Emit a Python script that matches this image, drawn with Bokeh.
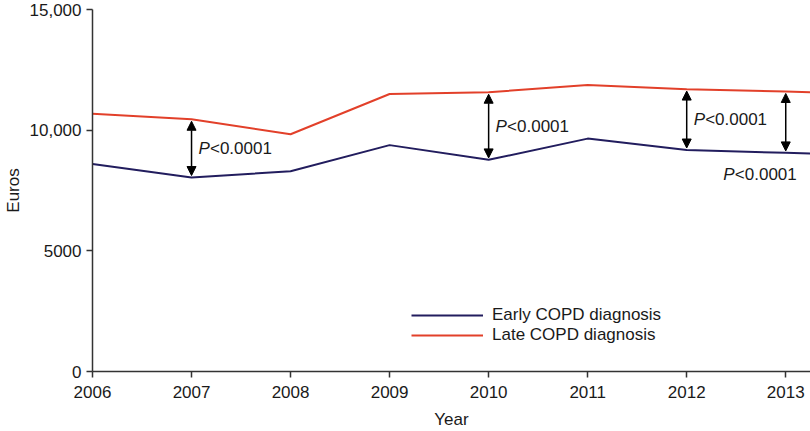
from bokeh.plotting import figure
from bokeh.models import (Range1d, FixedTicker, Arrow, NormalHead, Legend, LegendItem,
                          ColumnDataSource)
from bokeh.core.properties import value
from bokeh.embed import file_html
from bokeh.resources import INLINE

# ---- data ----
years = [2006, 2007, 2008, 2009, 2010, 2011, 2012, 2013]
early = [8600, 8040, 8300, 9380, 8770, 9650, 9180, 9060]
late = [10680, 10450, 9830, 11500, 11570, 11870, 11700, 11600]
series_names = ["Early COPD diagnosis", "Late COPD diagnosis"]
y_ticks = [0, 5000, 10000, 15000]
y_tick_labels = ["0", "5000", "10,000", "15,000"]
x_tick_labels = ["2006", "2007", "2008", "2009", "2010", "2011", "2012", "2013"]
arrow_years = [2007, 2010, 2012, 2013]
p_text_prefix = "P"
p_text_rest = "<0.0001"

FONT = "Liberation Sans"
FS = "17px"
RED = "#E2402A"
NAVY = "#221D5E"
AX = "#333333"

x_end = 2013.25
p = figure(width=810, height=431, output_backend="svg", toolbar_location=None,
           x_range=Range1d(2006, x_end), y_range=Range1d(0, 15000),
           min_border_left=92, min_border_right=0, min_border_top=9, min_border_bottom=58)
p.outline_line_color = None
p.xgrid.visible = False
p.ygrid.visible = False
p.background_fill_color = "white"

# extend lines to plot edge following the last segment
def extend(vals):
    slope = vals[-1] - vals[-2]
    return vals + [vals[-1] + slope * (x_end - years[-1])]
xs_ext = years + [x_end]

r_early = p.line(xs_ext, extend(early), line_color=NAVY, line_width=2)
r_late = p.line(xs_ext, extend(late), line_color=RED, line_width=2)

# arrows between the series
idx = {y: i for i, y in enumerate(years)}
for ay in arrow_years:
    i = idx[ay]
    p.add_layout(Arrow(
        start=NormalHead(size=9, fill_color="black", line_color="black"),
        end=NormalHead(size=9, fill_color="black", line_color="black"),
        x_start=ay, y_start=early[i] + 80, x_end=ay, y_end=late[i] - 80,
        line_color="black", line_width=1.5))

# P labels
lab_x, lab_y = [], []
for ay in arrow_years[:3]:
    i = idx[ay]
    lab_x.append(ay + 0.07)
    lab_y.append((early[i] + late[i]) / 2)
i = idx[arrow_years[3]]
lab_x.append(arrow_years[3] - 0.63)
lab_y.append(early[i] - 900)

src = ColumnDataSource(dict(x=lab_x, y=lab_y,
                            p=[p_text_prefix] * 4, rest=[p_text_rest] * 4))
p.text(x="x", y="y", text="p", source=src, text_font=value(FONT), text_font_size=FS,
       text_font_style="italic", text_baseline="middle", text_align="left", text_color="#1a1a1a")
p.text(x="x", y="y", text="rest", source=src, text_font=value(FONT), text_font_size=FS,
       text_baseline="middle", text_align="left", x_offset=11.5, text_color="#1a1a1a")

# axes
p.xaxis.ticker = FixedTicker(ticks=years)
p.xaxis.major_label_overrides = {y: t for y, t in zip(years, x_tick_labels)}
p.yaxis.ticker = FixedTicker(ticks=y_ticks)
p.yaxis.major_label_overrides = {v: t for v, t in zip(y_ticks, y_tick_labels)}
for ax in (p.xaxis[0], p.yaxis[0]):
    ax.axis_line_color = AX
    ax.axis_line_width = 1.5
    ax.major_tick_line_color = AX
    ax.major_tick_line_width = 1.5
    ax.major_tick_out = 6
    ax.major_tick_in = 0
    ax.minor_tick_line_color = None
    ax.major_label_text_font = FONT
    ax.major_label_text_font_size = FS
    ax.major_label_text_color = "#1a1a1a"
    ax.axis_label_text_font = FONT
    ax.axis_label_text_font_size = FS
    ax.axis_label_text_font_style = "normal"
    ax.axis_label_text_color = "#1a1a1a"
p.xaxis.axis_label = "Year"
p.yaxis.axis_label = "Euros"
p.xaxis.major_label_standoff = 8
p.xaxis.axis_label_standoff = 9
p.yaxis.major_label_standoff = 5
p.yaxis.axis_label_standoff = 4

legend = Legend(items=[LegendItem(label=series_names[0], renderers=[r_early]),
                       LegendItem(label=series_names[1], renderers=[r_late])],
                location=(319, 26), padding=0, margin=0, spacing=0,
                glyph_width=72, glyph_height=20, label_height=20, label_standoff=9,
                label_text_font=FONT, label_text_font_size=FS, label_text_color="#1a1a1a",
                border_line_alpha=0, background_fill_alpha=0)
p.add_layout(legend)

open("out.html", "w").write(file_html(p, INLINE))
